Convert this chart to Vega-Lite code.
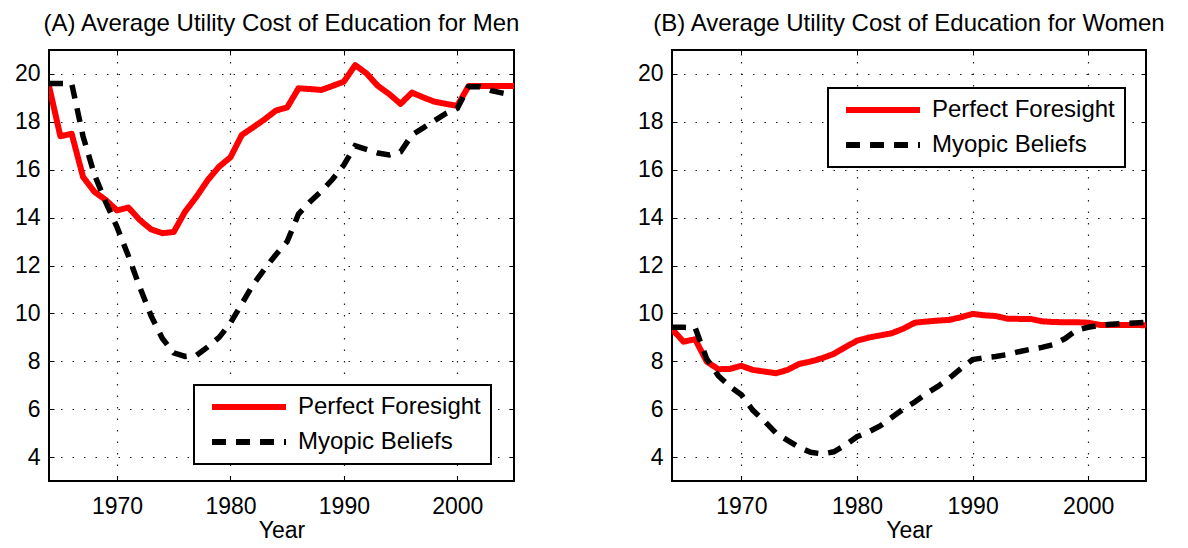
{
  "$schema": "https://vega.github.io/schema/vega-lite/v6.json",
  "padding": {"left": 13, "top": 10, "right": 5, "bottom": 0},
  "bounds": "flush",
  "spacing": 158,
  "datasets": {
    "men": [
      {"Year": 1964, "Series": "Perfect Foresight", "Cost": 19.5},
      {"Year": 1965, "Series": "Perfect Foresight", "Cost": 17.4},
      {"Year": 1966, "Series": "Perfect Foresight", "Cost": 17.5},
      {"Year": 1967, "Series": "Perfect Foresight", "Cost": 15.7},
      {"Year": 1968, "Series": "Perfect Foresight", "Cost": 15.08},
      {"Year": 1969, "Series": "Perfect Foresight", "Cost": 14.74},
      {"Year": 1970, "Series": "Perfect Foresight", "Cost": 14.3},
      {"Year": 1971, "Series": "Perfect Foresight", "Cost": 14.42},
      {"Year": 1972, "Series": "Perfect Foresight", "Cost": 13.9},
      {"Year": 1973, "Series": "Perfect Foresight", "Cost": 13.51},
      {"Year": 1974, "Series": "Perfect Foresight", "Cost": 13.35},
      {"Year": 1975, "Series": "Perfect Foresight", "Cost": 13.4},
      {"Year": 1976, "Series": "Perfect Foresight", "Cost": 14.25},
      {"Year": 1977, "Series": "Perfect Foresight", "Cost": 14.87},
      {"Year": 1978, "Series": "Perfect Foresight", "Cost": 15.57},
      {"Year": 1979, "Series": "Perfect Foresight", "Cost": 16.13},
      {"Year": 1980, "Series": "Perfect Foresight", "Cost": 16.52},
      {"Year": 1981, "Series": "Perfect Foresight", "Cost": 17.45},
      {"Year": 1982, "Series": "Perfect Foresight", "Cost": 17.77},
      {"Year": 1983, "Series": "Perfect Foresight", "Cost": 18.1},
      {"Year": 1984, "Series": "Perfect Foresight", "Cost": 18.47},
      {"Year": 1985, "Series": "Perfect Foresight", "Cost": 18.6},
      {"Year": 1986, "Series": "Perfect Foresight", "Cost": 19.4},
      {"Year": 1987, "Series": "Perfect Foresight", "Cost": 19.37},
      {"Year": 1988, "Series": "Perfect Foresight", "Cost": 19.33},
      {"Year": 1989, "Series": "Perfect Foresight", "Cost": 19.5},
      {"Year": 1990, "Series": "Perfect Foresight", "Cost": 19.68},
      {"Year": 1991, "Series": "Perfect Foresight", "Cost": 20.37},
      {"Year": 1992, "Series": "Perfect Foresight", "Cost": 20.02},
      {"Year": 1993, "Series": "Perfect Foresight", "Cost": 19.5},
      {"Year": 1994, "Series": "Perfect Foresight", "Cost": 19.16},
      {"Year": 1995, "Series": "Perfect Foresight", "Cost": 18.75},
      {"Year": 1996, "Series": "Perfect Foresight", "Cost": 19.22},
      {"Year": 1997, "Series": "Perfect Foresight", "Cost": 19.02},
      {"Year": 1998, "Series": "Perfect Foresight", "Cost": 18.84},
      {"Year": 1999, "Series": "Perfect Foresight", "Cost": 18.75},
      {"Year": 2000, "Series": "Perfect Foresight", "Cost": 18.67},
      {"Year": 2001, "Series": "Perfect Foresight", "Cost": 19.5},
      {"Year": 2002, "Series": "Perfect Foresight", "Cost": 19.5},
      {"Year": 2003, "Series": "Perfect Foresight", "Cost": 19.5},
      {"Year": 2004, "Series": "Perfect Foresight", "Cost": 19.5},
      {"Year": 2005, "Series": "Perfect Foresight", "Cost": 19.5},
      {"Year": 1964, "Series": "Myopic Beliefs", "Cost": 19.6},
      {"Year": 1965, "Series": "Myopic Beliefs", "Cost": 19.6},
      {"Year": 1966, "Series": "Myopic Beliefs", "Cost": 19.6},
      {"Year": 1967, "Series": "Myopic Beliefs", "Cost": 17.4},
      {"Year": 1968, "Series": "Myopic Beliefs", "Cost": 15.8},
      {"Year": 1969, "Series": "Myopic Beliefs", "Cost": 14.65},
      {"Year": 1970, "Series": "Myopic Beliefs", "Cost": 13.6},
      {"Year": 1971, "Series": "Myopic Beliefs", "Cost": 12.4},
      {"Year": 1972, "Series": "Myopic Beliefs", "Cost": 11.1},
      {"Year": 1973, "Series": "Myopic Beliefs", "Cost": 9.9},
      {"Year": 1974, "Series": "Myopic Beliefs", "Cost": 8.95},
      {"Year": 1975, "Series": "Myopic Beliefs", "Cost": 8.35},
      {"Year": 1976, "Series": "Myopic Beliefs", "Cost": 8.2},
      {"Year": 1977, "Series": "Myopic Beliefs", "Cost": 8.25},
      {"Year": 1978, "Series": "Myopic Beliefs", "Cost": 8.6},
      {"Year": 1979, "Series": "Myopic Beliefs", "Cost": 9.0},
      {"Year": 1980, "Series": "Myopic Beliefs", "Cost": 9.6},
      {"Year": 1981, "Series": "Myopic Beliefs", "Cost": 10.4},
      {"Year": 1982, "Series": "Myopic Beliefs", "Cost": 11.2},
      {"Year": 1983, "Series": "Myopic Beliefs", "Cost": 11.85},
      {"Year": 1984, "Series": "Myopic Beliefs", "Cost": 12.45},
      {"Year": 1985, "Series": "Myopic Beliefs", "Cost": 13.0},
      {"Year": 1986, "Series": "Myopic Beliefs", "Cost": 14.15},
      {"Year": 1987, "Series": "Myopic Beliefs", "Cost": 14.65},
      {"Year": 1988, "Series": "Myopic Beliefs", "Cost": 15.1},
      {"Year": 1989, "Series": "Myopic Beliefs", "Cost": 15.6},
      {"Year": 1990, "Series": "Myopic Beliefs", "Cost": 16.2},
      {"Year": 1991, "Series": "Myopic Beliefs", "Cost": 17.0},
      {"Year": 1992, "Series": "Myopic Beliefs", "Cost": 16.85},
      {"Year": 1993, "Series": "Myopic Beliefs", "Cost": 16.7},
      {"Year": 1994, "Series": "Myopic Beliefs", "Cost": 16.62},
      {"Year": 1995, "Series": "Myopic Beliefs", "Cost": 16.75},
      {"Year": 1996, "Series": "Myopic Beliefs", "Cost": 17.45},
      {"Year": 1997, "Series": "Myopic Beliefs", "Cost": 17.75},
      {"Year": 1998, "Series": "Myopic Beliefs", "Cost": 18.05},
      {"Year": 1999, "Series": "Myopic Beliefs", "Cost": 18.35},
      {"Year": 2000, "Series": "Myopic Beliefs", "Cost": 18.56},
      {"Year": 2001, "Series": "Myopic Beliefs", "Cost": 19.47},
      {"Year": 2002, "Series": "Myopic Beliefs", "Cost": 19.47},
      {"Year": 2003, "Series": "Myopic Beliefs", "Cost": 19.3},
      {"Year": 2004, "Series": "Myopic Beliefs", "Cost": 19.2},
      {"Year": 2005, "Series": "Myopic Beliefs", "Cost": 19.1}
    ],
    "women": [
      {"Year": 1964, "Series": "Perfect Foresight", "Cost": 9.34},
      {"Year": 1965, "Series": "Perfect Foresight", "Cost": 8.82},
      {"Year": 1966, "Series": "Perfect Foresight", "Cost": 8.92},
      {"Year": 1967, "Series": "Perfect Foresight", "Cost": 7.99},
      {"Year": 1968, "Series": "Perfect Foresight", "Cost": 7.67},
      {"Year": 1969, "Series": "Perfect Foresight", "Cost": 7.68},
      {"Year": 1970, "Series": "Perfect Foresight", "Cost": 7.81},
      {"Year": 1971, "Series": "Perfect Foresight", "Cost": 7.64},
      {"Year": 1972, "Series": "Perfect Foresight", "Cost": 7.57},
      {"Year": 1973, "Series": "Perfect Foresight", "Cost": 7.5},
      {"Year": 1974, "Series": "Perfect Foresight", "Cost": 7.64},
      {"Year": 1975, "Series": "Perfect Foresight", "Cost": 7.89},
      {"Year": 1976, "Series": "Perfect Foresight", "Cost": 7.99},
      {"Year": 1977, "Series": "Perfect Foresight", "Cost": 8.13},
      {"Year": 1978, "Series": "Perfect Foresight", "Cost": 8.31},
      {"Year": 1979, "Series": "Perfect Foresight", "Cost": 8.59},
      {"Year": 1980, "Series": "Perfect Foresight", "Cost": 8.86},
      {"Year": 1981, "Series": "Perfect Foresight", "Cost": 8.99},
      {"Year": 1982, "Series": "Perfect Foresight", "Cost": 9.08},
      {"Year": 1983, "Series": "Perfect Foresight", "Cost": 9.17},
      {"Year": 1984, "Series": "Perfect Foresight", "Cost": 9.36},
      {"Year": 1985, "Series": "Perfect Foresight", "Cost": 9.61},
      {"Year": 1986, "Series": "Perfect Foresight", "Cost": 9.66},
      {"Year": 1987, "Series": "Perfect Foresight", "Cost": 9.7},
      {"Year": 1988, "Series": "Perfect Foresight", "Cost": 9.73},
      {"Year": 1989, "Series": "Perfect Foresight", "Cost": 9.84},
      {"Year": 1990, "Series": "Perfect Foresight", "Cost": 9.98},
      {"Year": 1991, "Series": "Perfect Foresight", "Cost": 9.92},
      {"Year": 1992, "Series": "Perfect Foresight", "Cost": 9.89},
      {"Year": 1993, "Series": "Perfect Foresight", "Cost": 9.78},
      {"Year": 1994, "Series": "Perfect Foresight", "Cost": 9.77},
      {"Year": 1995, "Series": "Perfect Foresight", "Cost": 9.77},
      {"Year": 1996, "Series": "Perfect Foresight", "Cost": 9.67},
      {"Year": 1997, "Series": "Perfect Foresight", "Cost": 9.64},
      {"Year": 1998, "Series": "Perfect Foresight", "Cost": 9.63},
      {"Year": 1999, "Series": "Perfect Foresight", "Cost": 9.63},
      {"Year": 2000, "Series": "Perfect Foresight", "Cost": 9.61},
      {"Year": 2001, "Series": "Perfect Foresight", "Cost": 9.52},
      {"Year": 2002, "Series": "Perfect Foresight", "Cost": 9.52},
      {"Year": 2003, "Series": "Perfect Foresight", "Cost": 9.52},
      {"Year": 2004, "Series": "Perfect Foresight", "Cost": 9.52},
      {"Year": 2005, "Series": "Perfect Foresight", "Cost": 9.5},
      {"Year": 1964, "Series": "Myopic Beliefs", "Cost": 9.42},
      {"Year": 1965, "Series": "Myopic Beliefs", "Cost": 9.42},
      {"Year": 1966, "Series": "Myopic Beliefs", "Cost": 9.4},
      {"Year": 1967, "Series": "Myopic Beliefs", "Cost": 8.1},
      {"Year": 1968, "Series": "Myopic Beliefs", "Cost": 7.4},
      {"Year": 1969, "Series": "Myopic Beliefs", "Cost": 6.95},
      {"Year": 1970, "Series": "Myopic Beliefs", "Cost": 6.6},
      {"Year": 1971, "Series": "Myopic Beliefs", "Cost": 5.95},
      {"Year": 1972, "Series": "Myopic Beliefs", "Cost": 5.5},
      {"Year": 1973, "Series": "Myopic Beliefs", "Cost": 5.0},
      {"Year": 1974, "Series": "Myopic Beliefs", "Cost": 4.7},
      {"Year": 1975, "Series": "Myopic Beliefs", "Cost": 4.4},
      {"Year": 1976, "Series": "Myopic Beliefs", "Cost": 4.2},
      {"Year": 1977, "Series": "Myopic Beliefs", "Cost": 4.13},
      {"Year": 1978, "Series": "Myopic Beliefs", "Cost": 4.22},
      {"Year": 1979, "Series": "Myopic Beliefs", "Cost": 4.5},
      {"Year": 1980, "Series": "Myopic Beliefs", "Cost": 4.85},
      {"Year": 1981, "Series": "Myopic Beliefs", "Cost": 5.05},
      {"Year": 1982, "Series": "Myopic Beliefs", "Cost": 5.3},
      {"Year": 1983, "Series": "Myopic Beliefs", "Cost": 5.65},
      {"Year": 1984, "Series": "Myopic Beliefs", "Cost": 6.0},
      {"Year": 1985, "Series": "Myopic Beliefs", "Cost": 6.3},
      {"Year": 1986, "Series": "Myopic Beliefs", "Cost": 6.65},
      {"Year": 1987, "Series": "Myopic Beliefs", "Cost": 6.95},
      {"Year": 1988, "Series": "Myopic Beliefs", "Cost": 7.3},
      {"Year": 1989, "Series": "Myopic Beliefs", "Cost": 7.7},
      {"Year": 1990, "Series": "Myopic Beliefs", "Cost": 8.07},
      {"Year": 1991, "Series": "Myopic Beliefs", "Cost": 8.15},
      {"Year": 1992, "Series": "Myopic Beliefs", "Cost": 8.2},
      {"Year": 1993, "Series": "Myopic Beliefs", "Cost": 8.28},
      {"Year": 1994, "Series": "Myopic Beliefs", "Cost": 8.4},
      {"Year": 1995, "Series": "Myopic Beliefs", "Cost": 8.5},
      {"Year": 1996, "Series": "Myopic Beliefs", "Cost": 8.58},
      {"Year": 1997, "Series": "Myopic Beliefs", "Cost": 8.7},
      {"Year": 1998, "Series": "Myopic Beliefs", "Cost": 8.95},
      {"Year": 1999, "Series": "Myopic Beliefs", "Cost": 9.3},
      {"Year": 2000, "Series": "Myopic Beliefs", "Cost": 9.42},
      {"Year": 2001, "Series": "Myopic Beliefs", "Cost": 9.5},
      {"Year": 2002, "Series": "Myopic Beliefs", "Cost": 9.55},
      {"Year": 2003, "Series": "Myopic Beliefs", "Cost": 9.58},
      {"Year": 2004, "Series": "Myopic Beliefs", "Cost": 9.6},
      {"Year": 2005, "Series": "Myopic Beliefs", "Cost": 9.62}
    ]
  },
  "hconcat": [
    {
      "width": 465,
      "height": 431,
      "title": {"text": "(A) Average Utility Cost of Education for Men"},
      "data": {"name": "men"},
      "layer": [
        {
          "transform": [{"filter": "datum.Series === 'Perfect Foresight'"}],
          "mark": {"type": "line", "strokeWidth": 6, "strokeJoin": "round", "clip": true},
          "encoding": {
            "x": {"field": "Year", "type": "quantitative", "scale": {"domain": [1964, 2005], "nice": false, "zero": false},
                  "axis": {"orient": "bottom", "values": [1970, 1980, 1990, 2000], "format": "d", "title": "Year", "grid": true, "labelPadding": 19}},
            "y": {"field": "Cost", "type": "quantitative", "scale": {"domain": [3, 21], "nice": false, "zero": false},
                  "axis": {"orient": "left", "values": [4, 6, 8, 10, 12, 14, 16, 18, 20], "title": null, "grid": true}},
            "color": {"field": "Series", "type": "nominal",
                      "scale": {"domain": ["Perfect Foresight", "Myopic Beliefs"], "range": ["#ff0000", "#000000"]},
                      "legend": {"orient": "none", "legendX": 145, "legendY": 335, "title": null}},
            "strokeDash": {"field": "Series", "type": "nominal",
                           "scale": {"domain": ["Perfect Foresight", "Myopic Beliefs"], "range": [[1, 0], [14, 10]]},
                           "legend": {"orient": "none", "legendX": 145, "legendY": 335, "title": null}}
          }
        },
        {
          "transform": [{"filter": "datum.Series === 'Myopic Beliefs'"}],
          "mark": {"type": "line", "strokeWidth": 5.5, "strokeCap": "butt", "clip": true},
          "encoding": {
            "x": {"field": "Year", "type": "quantitative", "scale": {"domain": [1964, 2005], "nice": false, "zero": false},
                  "axis": {"orient": "top", "values": [1970, 1980, 1990, 2000], "labels": false, "title": null, "grid": false}},
            "y": {"field": "Cost", "type": "quantitative", "scale": {"domain": [3, 21], "nice": false, "zero": false},
                  "axis": {"orient": "right", "values": [4, 6, 8, 10, 12, 14, 16, 18, 20], "labels": false, "title": null, "grid": false}},
            "color": {"field": "Series", "type": "nominal"},
            "strokeDash": {"field": "Series", "type": "nominal"}
          }
        }
      ],
      "resolve": {"axis": {"x": "independent", "y": "independent"}}
    },
    {
      "width": 474,
      "height": 431,
      "title": {"text": "(B) Average Utility Cost of Education for Women"},
      "data": {"name": "women"},
      "layer": [
        {
          "transform": [{"filter": "datum.Series === 'Perfect Foresight'"}],
          "mark": {"type": "line", "strokeWidth": 6, "strokeJoin": "round", "clip": true},
          "encoding": {
            "x": {"field": "Year", "type": "quantitative", "scale": {"domain": [1964, 2005], "nice": false, "zero": false},
                  "axis": {"orient": "bottom", "values": [1970, 1980, 1990, 2000], "format": "d", "title": "Year", "grid": true, "labelPadding": 19}},
            "y": {"field": "Cost", "type": "quantitative", "scale": {"domain": [3, 21], "nice": false, "zero": false},
                  "axis": {"orient": "left", "values": [4, 6, 8, 10, 12, 14, 16, 18, 20], "title": null, "grid": true}},
            "color": {"field": "Series", "type": "nominal",
                      "scale": {"domain": ["Perfect Foresight", "Myopic Beliefs"], "range": ["#ff0000", "#000000"]},
                      "legend": {"orient": "none", "legendX": 156, "legendY": 38, "title": null}},
            "strokeDash": {"field": "Series", "type": "nominal",
                           "scale": {"domain": ["Perfect Foresight", "Myopic Beliefs"], "range": [[1, 0], [14, 10]]},
                           "legend": {"orient": "none", "legendX": 156, "legendY": 38, "title": null}}
          }
        },
        {
          "transform": [{"filter": "datum.Series === 'Myopic Beliefs'"}],
          "mark": {"type": "line", "strokeWidth": 5.5, "strokeCap": "butt", "clip": true},
          "encoding": {
            "x": {"field": "Year", "type": "quantitative", "scale": {"domain": [1964, 2005], "nice": false, "zero": false},
                  "axis": {"orient": "top", "values": [1970, 1980, 1990, 2000], "labels": false, "title": null, "grid": false}},
            "y": {"field": "Cost", "type": "quantitative", "scale": {"domain": [3, 21], "nice": false, "zero": false},
                  "axis": {"orient": "right", "values": [4, 6, 8, 10, 12, 14, 16, 18, 20], "labels": false, "title": null, "grid": false}},
            "color": {"field": "Series", "type": "nominal"},
            "strokeDash": {"field": "Series", "type": "nominal"}
          }
        }
      ],
      "resolve": {"axis": {"x": "independent", "y": "independent"}}
    }
  ],
  "resolve": {"scale": {"color": "independent", "strokeDash": "independent"}},
  "config": {
    "font": "Liberation Sans",
    "view": {"stroke": "#000000", "strokeWidth": 2},
    "title": {"fontSize": 24, "fontWeight": "normal", "color": "#000000", "anchor": "middle", "offset": 14},
    "axis": {
      "domain": false,
      "ticks": true,
      "tickSize": -5,
      "tickColor": "#000000",
      "tickWidth": 1,
      "labelFontSize": 23,
      "labelColor": "#000000",
      "labelPadding": 14,
      "titleFontSize": 23,
      "titleFontWeight": "normal",
      "titleColor": "#000000",
      "titlePadding": 1,
      "gridColor": "#222222",
      "gridWidth": 1.2,
      "gridDash": [1.5, 10],
      "gridOpacity": 1
    },
    "legend": {
      "symbolType": "stroke",
      "symbolSize": 5476,
      "symbolStrokeWidth": 6,
      "symbolOffset": 5,
      "clipHeight": 24,
      "rowPadding": 11,
      "labelFontSize": 24,
      "labelColor": "#000000",
      "labelOffset": 9,
      "padding": 10,
      "strokeColor": "#000000",
      "strokeWidth": 2,
      "fillColor": "#ffffff",
      "labelLimit": 0
    }
  }
}
